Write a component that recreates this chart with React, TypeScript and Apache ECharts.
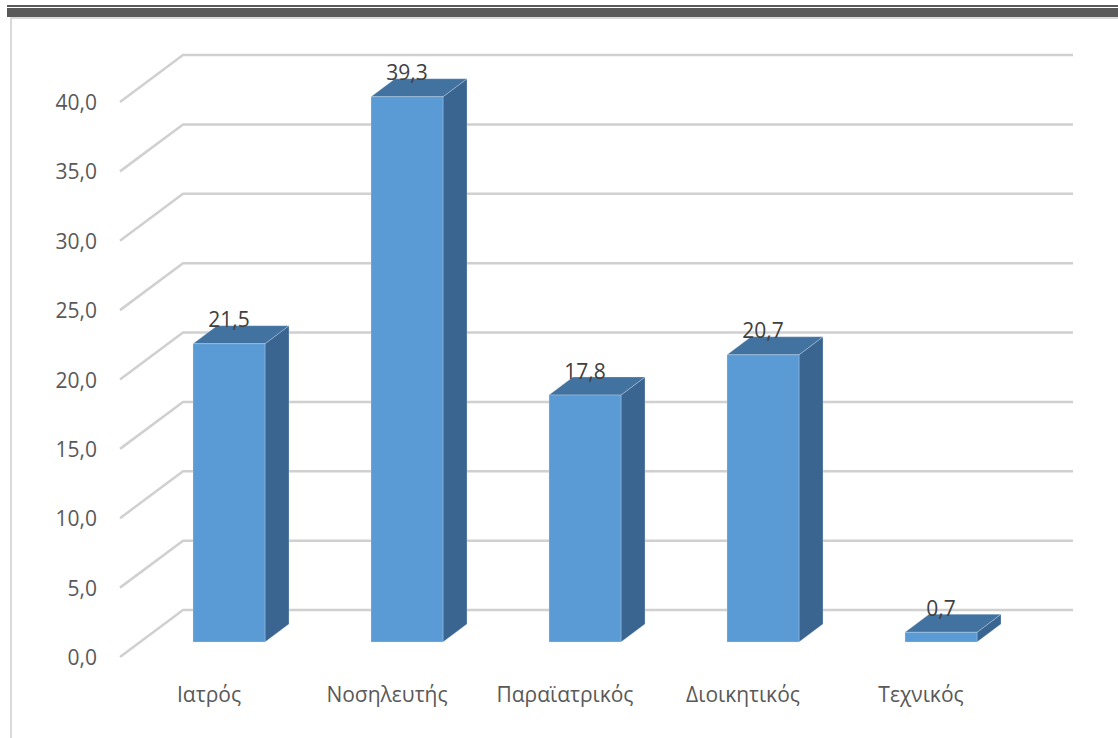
import React, { useEffect, useRef } from "react";
import * as echarts from "echarts";

const categories = ["Ιατρός", "Νοσηλευτής", "Παραϊατρικός", "Διοικητικός", "Τεχνικός"];
const values = [21.5, 39.3, 17.8, 20.7, 0.7];
const yTicks = [0, 5, 10, 15, 20, 25, 30, 35, 40];

const FONT = "Open Sans";
const TEXT = "#595959";
const GRIDC = "#d0d0d0";
const FRONT = "#5B9BD5";
const SIDE = "#3A6590";
const TOP = "#4272A0";
const BAR_DX = 24;
const BAR_DY = -18;
const BACK_DX = 43;
const BACK_DY = -32;
const FLOOR_DX = -20;
const FLOOR_DY = 15;

const fmt = (v: number) => v.toFixed(1).replace(".", ",");

export default function App() {
  const ref = useRef<HTMLDivElement>(null);
  useEffect(() => {
    if (!ref.current) return;
    const chart = echarts.init(ref.current, null, { renderer: "svg" });
    const option: any = {
      animation: false,
      backgroundColor: "#ffffff",
      graphic: [
        { type: "rect", shape: { x: 7, y: 5, width: 1111, height: 2 }, style: { fill: "#595959" }, silent: true },
        { type: "rect", shape: { x: 7, y: 8, width: 1111, height: 9 }, style: { fill: "#595959" }, silent: true },
        { type: "rect", shape: { x: 10, y: 17, width: 1108, height: 2 }, style: { fill: "#d9d9d9" }, silent: true },
        { type: "rect", shape: { x: 10, y: 17, width: 2, height: 721 }, style: { fill: "#d9d9d9" }, silent: true },
      ],
      grid: [
        { left: 140, right: 88, top: 87, bottom: 96 },
        { left: 120, right: 108, top: 102, bottom: 81 },
      ],
      xAxis: [
        {
          type: "category",
          gridIndex: 0,
          data: categories,
          axisLine: { show: false },
          axisTick: { show: false },
          axisLabel: { show: false },
        },
        {
          type: "category",
          gridIndex: 1,
          data: categories,
          axisLine: { show: false },
          axisTick: { show: false },
          axisLabel: {
            show: true,
            interval: 0,
            hideOverlap: false,
            color: TEXT,
            fontFamily: FONT,
            fontSize: 21,
            margin: 26,
          },
        },
      ],
      yAxis: [
        {
          type: "value",
          gridIndex: 0,
          min: 0,
          max: 40,
          interval: 5,
          axisLine: { show: false },
          axisTick: { show: false },
          axisLabel: { show: false },
          splitLine: { show: false },
        },
        {
          type: "value",
          gridIndex: 1,
          min: 0,
          max: 40,
          interval: 5,
          axisLine: { show: false },
          axisTick: { show: false },
          splitLine: { show: false },
          axisLabel: {
            show: true,
            color: TEXT,
            fontFamily: FONT,
            fontSize: 21,
            margin: 23,
            formatter: (v: number) => fmt(v),
          },
        },
      ],
      series: [
        {
          type: "custom",
          xAxisIndex: 0,
          yAxisIndex: 0,
          z: 1,
          clip: false,
          data: yTicks.map((t) => [0, t]),
          renderItem: (params: any, api: any) => {
            const cs = params.coordSys;
            const v = api.value(1);
            const p = api.coord([0, v]);
            const y = p[1];
            return {
              type: "polyline",
              shape: {
                points: [
                  [cs.x + FLOOR_DX, y + FLOOR_DY],
                  [cs.x + BACK_DX, y + BACK_DY],
                  [cs.x + cs.width + BACK_DX, y + BACK_DY],
                ],
              },
              style: { stroke: GRIDC, lineWidth: 2.5, fill: "none" },
            };
          },
        },
        {
          type: "custom",
          xAxisIndex: 0,
          yAxisIndex: 0,
          z: 2,
          clip: false,
          data: values.map((v, i) => [i, v]),
          renderItem: (params: any, api: any) => {
            const i = api.value(0);
            const v = api.value(1);
            const p0 = api.coord([i, 0]);
            const p1 = api.coord([i, v]);
            const half = 36;
            const x0 = p0[0] - half;
            const x1 = p0[0] + half;
            const yb = p0[1];
            const yt = p1[1];
            const edge = "rgba(220,230,240,0.6)";
            return {
              type: "group",
              children: [
                {
                  type: "polygon",
                  shape: { points: [[x1, yt], [x1 + BAR_DX, yt + BAR_DY], [x1 + BAR_DX, yb + BAR_DY], [x1, yb]] },
                  style: { fill: SIDE, stroke: edge, lineWidth: 0.5 },
                },
                {
                  type: "polygon",
                  shape: { points: [[x0, yt], [x0 + BAR_DX, yt + BAR_DY], [x1 + BAR_DX, yt + BAR_DY], [x1, yt]] },
                  style: { fill: TOP, stroke: edge, lineWidth: 0.5 },
                },
                {
                  type: "rect",
                  shape: { x: x0, y: yt, width: 2 * half, height: yb - yt },
                  style: { fill: FRONT, stroke: edge, lineWidth: 0.5 },
                },
                {
                  type: "text",
                  x: p0[0],
                  y: yt + BAR_DY + 4,
                  style: {
                    text: fmt(v),
                    fill: "#404040",
                    font: `21px "${FONT}"`,
                    align: "center",
                    verticalAlign: "bottom",
                  },
                },
              ],
            };
          },
        },
      ],
    };
    chart.setOption(option);
    return () => chart.dispose();
  }, []);
  return (
    <div
      ref={ref}
      style={{ position: "absolute", left: 0, top: 0, width: 1118, height: 738 }}
    />
  );
}
